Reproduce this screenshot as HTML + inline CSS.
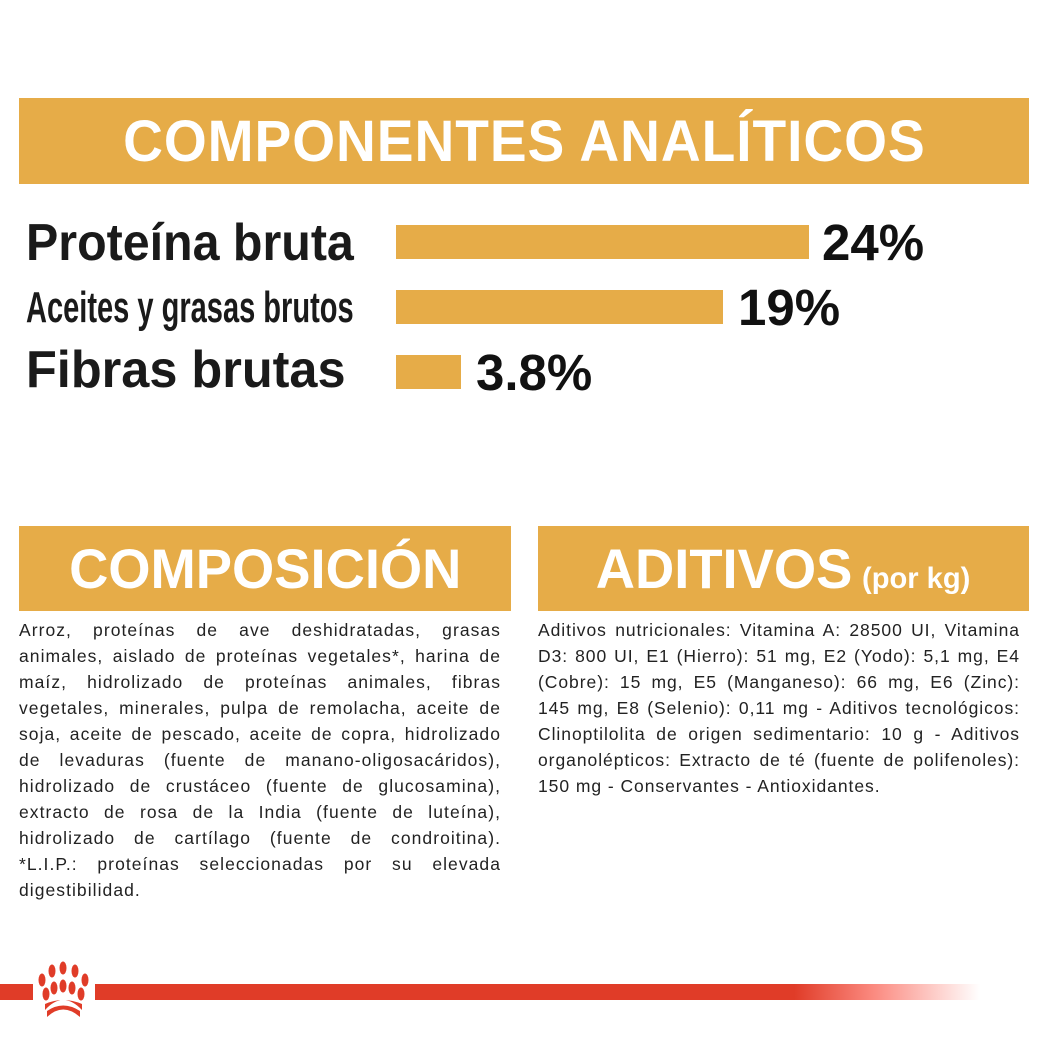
<!DOCTYPE html>
<html><head><meta charset="utf-8"><style>
body{margin:0;width:1049px;height:1049px;background:#fff;position:relative;overflow:hidden;font-family:"Liberation Sans",sans-serif}
.abs{position:absolute}
.hdr{background:#e6ac48;color:#fff;font-weight:bold;display:flex;align-items:center;justify-content:center;white-space:nowrap}
.bar{background:#e6ac48;position:absolute}
.lab{position:absolute;left:26px;font-weight:bold;color:#1a1a1a;white-space:nowrap;transform-origin:left center}
.pct{position:absolute;font-weight:bold;color:#111;font-size:51px;white-space:nowrap}
.txt{position:absolute;font-size:17.5px;letter-spacing:0.95px;line-height:26px;color:#222;text-align:justify}
</style></head><body>
<div class="abs hdr" style="left:19px;top:98px;width:1010px;height:86px;font-size:58px;letter-spacing:1px"><span style="display:inline-block;transform:scaleX(0.95)">COMPONENTES ANALÍTICOS</span></div>

<div class="lab" style="top:213px;font-size:52px;transform:scaleX(0.93)">Proteína bruta</div>
<div class="lab" style="top:283px;font-size:44px;transform:scaleX(0.66)">Aceites y grasas brutos</div>
<div class="lab" style="top:340px;font-size:52px;transform:scaleX(0.97)">Fibras brutas</div>

<div class="bar" style="left:396px;top:225px;width:413px;height:34px"></div>
<div class="bar" style="left:396px;top:290px;width:327px;height:34px"></div>
<div class="bar" style="left:396px;top:355px;width:65px;height:34px"></div>
<div class="pct" style="left:822px;top:213px">24%</div>
<div class="pct" style="left:738px;top:278px">19%</div>
<div class="pct" style="left:476px;top:343px">3.8%</div>

<div class="abs hdr" style="left:19px;top:526px;width:492px;height:85px;font-size:56px"><span style="display:inline-block;transform:scaleX(0.97)">COMPOSICIÓN</span></div>
<div class="abs hdr" style="left:538px;top:526px;width:491px;height:85px;font-size:56px"><span style="display:inline-block;transform:scaleX(0.97)">ADITIVOS<span style="font-size:30px;margin-left:10px">(por kg)</span></span></div>

<div class="txt" style="left:19px;top:617px;width:482px;letter-spacing:1.05px;word-spacing:1px">Arroz, proteínas de ave deshidratadas, grasas animales, aislado de proteínas vegetales*, harina de maíz, hidrolizado de proteínas animales, fibras vegetales, minerales, pulpa de remolacha, aceite de soja, aceite de pescado, aceite de copra, hidrolizado de levaduras (fuente de manano-oligosacáridos), hidrolizado de crustáceo (fuente de glucosamina), extracto de rosa de la India (fuente de luteína), hidrolizado de cartílago (fuente de condroitina). *L.I.P.: proteínas seleccionadas por su elevada digestibilidad.</div>
<div class="txt" style="left:538px;top:617px;width:482px">Aditivos nutricionales: Vitamina A: 28500 UI, Vitamina D3: 800 UI, E1 (Hierro): 51 mg, E2 (Yodo): 5,1 mg, E4 (Cobre): 15 mg, E5 (Manganeso): 66 mg, E6 (Zinc): 145 mg, E8 (Selenio): 0,11 mg - Aditivos tecnológicos: Clinoptilolita de origen sedimentario: 10 g - Aditivos organolépticos: Extracto de té (fuente de polifenoles): 150 mg - Conservantes - Antioxidantes.</div>

<div class="abs" style="left:0;top:984px;width:33px;height:16px;background:#e03c28"></div>
<div class="abs" style="left:95px;top:984px;width:885px;height:16px;background:linear-gradient(to right,#e03c28 0%,#e03c28 79%,#fb8a80 88%,#fff 100%)"></div>
<svg class="abs" style="left:30px;top:958px" width="70" height="62" viewBox="0 0 70 62">
<g fill="#e03c28">
<ellipse cx="12" cy="22" rx="3.5" ry="6.5"/><ellipse cx="22" cy="13" rx="3.5" ry="6.5"/><ellipse cx="33" cy="10" rx="3.5" ry="6.5"/><ellipse cx="45" cy="13" rx="3.5" ry="6.5"/><ellipse cx="55" cy="22" rx="3.5" ry="6.5"/>
<ellipse cx="16" cy="36" rx="3.5" ry="6.5"/><ellipse cx="24" cy="30" rx="3.5" ry="6.5"/><ellipse cx="33" cy="28" rx="3.5" ry="6.5"/><ellipse cx="42" cy="30" rx="3.5" ry="6.5"/><ellipse cx="51" cy="36" rx="3.5" ry="6.5"/>
<path d="M15 52 Q33 32 52 52 L52 46 Q33 38 15 46Z"/>
<path d="M17 59 Q33 44 50 59 L50 53 Q33 42 17 53Z"/>
</g></svg>
</body></html>
